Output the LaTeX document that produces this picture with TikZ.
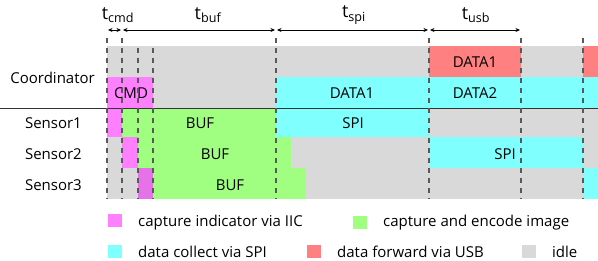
\documentclass[tikz,border=0pt]{standalone}
\usepackage{fontspec}
\setmainfont{Open Sans}
\usetikzlibrary{arrows.meta}
\definecolor{iic}{HTML}{FF80FF}
\definecolor{iicb}{HTML}{E672E8}
\definecolor{enc}{HTML}{A0FF80}
\definecolor{spi}{HTML}{80FFFF}
\definecolor{usb}{HTML}{FF8080}
\definecolor{idle}{HTML}{D9D9D9}
\tikzset{
  lbl/.style={font=\fontsize{15}{15}\selectfont, inner sep=0pt},
  tlbl/.style={font=\fontsize{18}{18}\selectfont, inner sep=0pt},
  tickline/.style={draw=black!65, line width=1.4pt, dash pattern=on 5pt off 5pt},
  key/.style={minimum width=14pt, minimum height=13pt, inner sep=0pt}
}
\begin{document}
\begin{tikzpicture}[x=1pt,y=-1pt,>={Stealth[length=4.5pt,width=4pt]}]
\useasboundingbox (0,0) rectangle (598,261);
% bars: x1/x2/y1/y2/colour
\foreach \a/\b/\c/\d/\col in {
  107/429/46/77/idle, 429/521/46/77/usb, 521/583/46/77/idle, 583/598/46/77/usb,
  107/153/77/108/iic, 153/276/77/108/idle, 276/598/77/108/spi,
  107/122/108/137/iic, 122/276/108/137/enc, 276/429/108/137/spi, 429/598/108/137/idle,
  107/122/137/168/idle, 122/138/137/168/iic, 138/291/137/168/enc, 291/429/137/168/idle, 429/583/137/168/spi, 583/598/137/168/idle,
  107/138/168/199/idle, 138/153/168/199/iicb, 153/306/168/199/enc, 306/583/168/199/idle, 583/598/168/199/spi}
  \fill[\col] (\a,\c) rectangle (\b,\d);
\draw[black!80, line width=0.8pt] (0,108)--(598,108);

% row names
\node[lbl, anchor=east] (coord) at (95,78) {Coordinator};
\node[lbl, anchor=east] (s1) at (82,123) {Sensor1};
\node[lbl, anchor=east] (s2) at (82,154) {Sensor2};
\node[lbl, anchor=east] (s3) at (82,185) {Sensor3};

% bar texts
\node[lbl] (cmd) at (131,93) {CMD};
\node[lbl] (fwd1) at (475,62) {DATA1};
\node[lbl] (col1) at (352,93) {DATA1};
\node[lbl] (col2) at (475,93) {DATA2};
\node[lbl] (buf1) at (200,123) {BUF};
\node[lbl] (buf2) at (215,154) {BUF};
\node[lbl] (buf3) at (230,185) {BUF};
\node[lbl] (spi1) at (353,123) {SPI};
\node[lbl] (spi2) at (505,154) {SPI};

% time marks
\foreach \n/\x in {a/107,b/122,e/276,f/429,g/521,h/583}{
  \coordinate (top\n) at (\x,38);
  \coordinate (bot\n) at (\x,199);
  \draw[tickline] (top\n)--(bot\n);
}
\foreach \n/\x in {c/138,d/153}{
  \coordinate (top\n) at (\x,48);
  \coordinate (bot\n) at (\x,199);
  \draw[tickline] (top\n)--(bot\n);
}
\foreach \n/\x in {a/107,b/122,e/276,f/429,g/521}
  \coordinate (arr\n) at (\x,30);
\draw[<->, line width=0.8pt] ([xshift=1pt]arra)--([xshift=-1pt]arrb);
\draw[<->, line width=0.8pt] ([xshift=1pt]arrb)--([xshift=-1pt]arre);
\draw[<->, line width=0.8pt] ([xshift=1pt]arre)--([xshift=-1pt]arrf);
\draw[<->, line width=0.8pt] ([xshift=1pt]arrf)--([xshift=-1pt]arrg);
\node[tlbl] (tcmd) at (118,15) {t\textsubscript{cmd}};
\node[tlbl] (tbuf) at (208,15) {t\textsubscript{buf}};
\node[tlbl] (tspi) at (354,15) {t\textsubscript{spi}};
\node[tlbl] (tusb) at (476,15) {t\textsubscript{usb}};

% legend
\node[key, fill=iic] (k1) at (114.5,221) {};
\node[lbl, anchor=west] at (138,223) {capture indicator via IIC};
\node[key, fill=enc] (k2) at (360,223) {};
\node[lbl, anchor=west] at (383,223) {capture and encode image};
\node[key, fill=spi] (k3) at (114.5,252) {};
\node[lbl, anchor=west] at (138,252) {data collect via SPI};
\node[key, fill=usb] (k4) at (314,252) {};
\node[lbl, anchor=west] at (337,252) {data forward via USB};
\node[key, fill=idle] (k5) at (529,252) {};
\node[lbl, anchor=west] at (552,252) {idle};
\end{tikzpicture}
\end{document}
